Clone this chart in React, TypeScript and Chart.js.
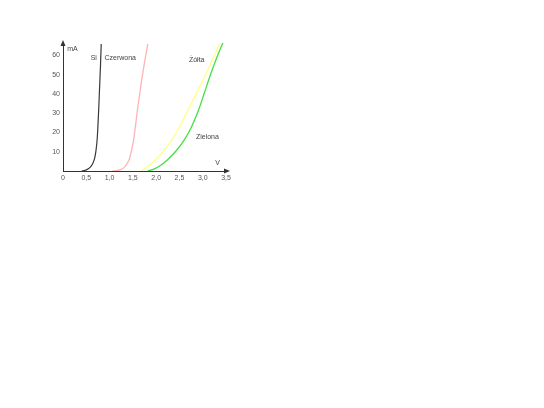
import React, { useEffect, useRef } from "react";
import { Chart, registerables } from "chart.js";

Chart.register(...registerables);

// Diode I-V characteristics (V in volts, I in mA)
const siV = [0.4, 0.45, 0.5, 0.57, 0.63, 0.68, 0.71, 0.735, 0.77, 0.805, 0.82];
const siI = [0, 0.2, 0.6, 1.6, 3.5, 6.7, 11, 17, 34, 55, 66];

const redV = [1.06, 1.15, 1.25, 1.32, 1.38, 1.43, 1.52, 1.61, 1.72, 1.82];
const redI = [0, 0.2, 0.8, 2, 4, 6.7, 17, 34, 52, 66];

const yellowV = [1.68, 1.8, 2.04, 2.33, 2.5, 2.7, 2.9, 3.05, 3.2, 3.38];
const yellowI = [0, 2, 7, 16, 23, 32.5, 42, 49.5, 57.5, 67];

const greenV = [1.82, 1.95, 2.1, 2.25, 2.43, 2.6, 2.75, 2.9, 3.04, 3.18, 3.31, 3.44];
const greenI = [0, 1, 3, 6, 10.5, 16, 22.5, 31, 41, 51, 59.5, 67];

const xTicks = [0, 0.5, 1, 1.5, 2, 2.5, 3, 3.5];
const yTicks = [10, 20, 30, 40, 50, 60];
const xMax = 3.52;
const yMax = 66.5;

const labelTexts = ["mA", "Si", "Czerwona", "Żółta", "Zielona", "V"];
const labelV = [0.09, 0.66, 0.89, 2.87, 3.1, 3.32];
const labelI = [63.6, 58.5, 58.5, 57.8, 17.7, 4];
const labelAlign: CanvasTextAlign[] = ["left", "center", "left", "center", "center", "center"];

const FONT = "'Liberation Sans', Arial, sans-serif";

const toPts = (xs: number[], ys: number[]) => xs.map((x, i) => ({ x, y: ys[i] }));

const overlay = {
  id: "overlay",
  afterDraw(chart: any) {
    const { ctx } = chart;
    const xs = chart.scales.x;
    const ys = chart.scales.y;
    const x0 = xs.getPixelForValue(0);
    const y0 = ys.getPixelForValue(0);
    const yTop = ys.getPixelForValue(yMax);
    const xEnd = xs.getPixelForValue(xMax);
    ctx.save();
    ctx.fillStyle = "#333";
    ctx.beginPath();
    ctx.moveTo(x0, yTop - 3);
    ctx.lineTo(x0 - 2.5, yTop + 3);
    ctx.lineTo(x0 + 2.5, yTop + 3);
    ctx.closePath();
    ctx.fill();
    ctx.beginPath();
    ctx.moveTo(xEnd + 3, y0);
    ctx.lineTo(xEnd - 3, y0 - 2.5);
    ctx.lineTo(xEnd - 3, y0 + 2.5);
    ctx.closePath();
    ctx.fill();
    ctx.font = `7px ${FONT}`;
    ctx.fillStyle = "#444";
    ctx.textBaseline = "middle";
    labelTexts.forEach((t, i) => {
      ctx.textAlign = labelAlign[i];
      ctx.fillText(t, xs.getPixelForValue(labelV[i]), ys.getPixelForValue(labelI[i]));
    });
    ctx.restore();
  },
};

export default function App() {
  const ref = useRef<HTMLCanvasElement>(null);
  useEffect(() => {
    if (!ref.current) return;
    const mk = (label: string, xs: number[], ys: number[], color: string, w: number) => ({
      label,
      data: toPts(xs, ys),
      borderColor: color,
      borderWidth: w,
      pointRadius: 0,
      fill: false,
      cubicInterpolationMode: "monotone" as const,
    });
    const chart = new Chart(ref.current, {
      type: "line",
      data: {
        datasets: [
          mk("Si", siV, siI, "#3a3a3a", 1.2),
          mk("Czerwona", redV, redI, "#ffb4b4", 1.3),
          mk("Żółta", yellowV, yellowI, "#ffff88", 1.3),
          mk("Zielona", greenV, greenI, "#44e044", 1.3),
        ],
      },
      options: {
        responsive: false,
        animation: false,
        events: [],
        layout: { padding: { left: 0, right: 317, top: 43, bottom: 217 } },
        plugins: { legend: { display: false }, tooltip: { enabled: false }, title: { display: false } },
        scales: {
          x: {
            type: "linear",
            min: 0,
            max: xMax,
            grid: { display: false, drawTicks: false },
            border: { display: true, color: "#333", width: 1 },
            afterBuildTicks: (s: any) => {
              s.ticks = xTicks.map((v) => ({ value: v }));
            },
            afterFit: (s: any) => {
              s.height = 20;
            },
            ticks: {
              padding: 3,
              autoSkip: false,
              maxRotation: 0,
              color: "#555",
              font: { size: 7, family: FONT },
              callback: (v: any) => (v === 0 ? "0" : Number(v).toFixed(1).replace(".", ",")),
            },
          },
          y: {
            type: "linear",
            min: 0,
            max: yMax,
            grid: { display: false, drawTicks: false },
            border: { display: true, color: "#333", width: 1 },
            afterBuildTicks: (s: any) => {
              s.ticks = yTicks.map((v) => ({ value: v }));
            },
            afterFit: (s: any) => {
              s.width = 63;
            },
            ticks: {
              padding: 3,
              color: "#555",
              font: { size: 7, family: FONT },
              callback: (v: any) => String(v),
            },
          },
        },
      },
      plugins: [overlay],
    });
    return () => chart.destroy();
  }, []);
  return (
    <div style={{ position: "absolute", left: 0, top: 0, width: 544, height: 408 }}>
      <canvas ref={ref} width={544} height={408} style={{ display: "block" }} />
    </div>
  );
}
